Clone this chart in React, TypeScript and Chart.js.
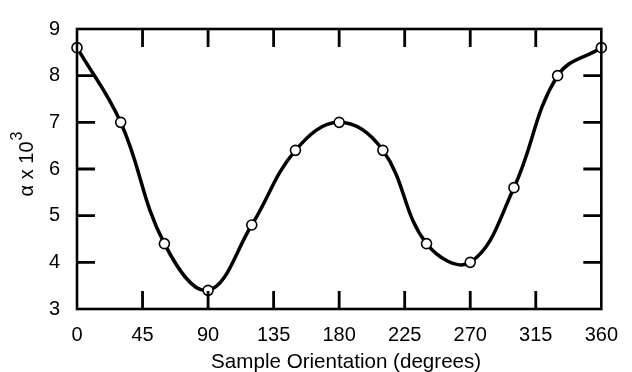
import React, { useEffect, useRef } from "react";
import { Chart, registerables } from "chart.js";

Chart.register(...registerables);

const angles = [0, 30, 60, 90, 120, 150, 180, 210, 240, 270, 300, 330, 360];
const alpha = [8.6, 7.0, 4.4, 3.4, 4.8, 6.4, 7.0, 6.4, 4.4, 4.0, 5.6, 8.0, 8.6];
const xTickValues = [0, 45, 90, 135, 180, 225, 270, 315, 360];
const yTickValues = [3, 4, 5, 6, 7, 8, 9];
const xTitle = "Sample Orientation (degrees)";
const yTitleBase = "\u03b1 x 10";
const yTitleExp = "3";

const FONT = "'Liberation Sans', Arial, Helvetica, sans-serif";

const framePlugin = {
  id: "frameTicks",
  afterDraw(chart: any) {
    const { ctx, chartArea, scales } = chart;
    const { left, right, top, bottom } = chartArea;
    const xs = scales.x;
    const ys = scales.y;
    const len = 18;
    ctx.save();
    ctx.strokeStyle = "#000";
    ctx.lineWidth = 2.8;
    ctx.lineCap = "butt";
    ctx.beginPath();
    xTickValues.forEach((v) => {
      if (v === xs.min || v === xs.max) return;
      const px = xs.getPixelForValue(v);
      ctx.moveTo(px, bottom);
      ctx.lineTo(px, bottom - len);
      ctx.moveTo(px, top);
      ctx.lineTo(px, top + len);
    });
    yTickValues.forEach((v) => {
      if (v === ys.min || v === ys.max) return;
      const py = ys.getPixelForValue(v);
      ctx.moveTo(left, py);
      ctx.lineTo(left + len, py);
      ctx.moveTo(right, py);
      ctx.lineTo(right - len, py);
    });
    ctx.stroke();
    ctx.lineWidth = 2.6;
    ctx.strokeRect(left, top, right - left, bottom - top);

    // x-axis title
    ctx.fillStyle = "#000";
    ctx.font = `20.6px ${FONT}`;
    ctx.textAlign = "center";
    ctx.textBaseline = "alphabetic";
    ctx.fillText(xTitle, (left + right) / 2 + 7, 368);

    // y-axis title with superscript
    const cy = (top + bottom) / 2 - 5;
    ctx.translate(27, cy);
    ctx.rotate(-Math.PI / 2);
    ctx.textBaseline = "middle";
    ctx.textAlign = "left";
    const baseFont = `20px ${FONT}`;
    const expFont = `16px ${FONT}`;
    ctx.font = baseFont;
    const wBase = ctx.measureText(yTitleBase).width;
    ctx.font = expFont;
    const wExp = ctx.measureText(yTitleExp).width;
    const total = wBase + wExp + 1;
    const sx = -total / 2;
    ctx.font = baseFont;
    ctx.fillText(yTitleBase, sx, 0);
    ctx.font = expFont;
    ctx.fillText(yTitleExp, sx + wBase + 1, -9);
    ctx.restore();
  },
};

export default function App() {
  const ref = useRef<HTMLCanvasElement>(null);
  useEffect(() => {
    if (!ref.current) return;
    const pts = angles.map((a, i) => ({ x: a, y: alpha[i] }));
    const chart = new Chart(ref.current, {
      type: "line",
      data: {
        datasets: [
          {
            data: pts,
            borderColor: "#000",
            borderWidth: 3.5,
            tension: 0.4,
            pointRadius: 5,
            pointBackgroundColor: "#fff",
            pointBorderColor: "#000",
            pointBorderWidth: 1.6,
            clip: false,
          } as any,
          {
            data: pts,
            showLine: false,
            pointRadius: 1,
            pointBackgroundColor: "#000",
            pointBorderWidth: 0,
            clip: false,
          } as any,
        ],
      },
      options: {
        animation: false,
        responsive: false,
        events: [],
        layout: { padding: { top: 21, right: 21, left: 0, bottom: 0 } },
        plugins: { legend: { display: false }, tooltip: { enabled: false } },
        scales: {
          x: {
            type: "linear",
            min: 0,
            max: 360,
            afterFit: (s: any) => {
              s.height = 63;
            },
            afterBuildTicks: (s: any) => {
              s.ticks = xTickValues.map((v) => ({ value: v }));
            },
            grid: { display: false, drawTicks: false },
            border: { display: false },
            ticks: {
              color: "#000",
              font: { family: FONT, size: 20 },
              padding: 14,
              maxRotation: 0,
              autoSkip: false,
            },
            title: { display: false },
          },
          y: {
            type: "linear",
            min: 3,
            max: 9,
            afterFit: (s: any) => {
              s.width = 77;
            },
            afterBuildTicks: (s: any) => {
              s.ticks = yTickValues.map((v) => ({ value: v }));
            },
            grid: { display: false, drawTicks: false },
            border: { display: false },
            ticks: {
              color: "#000",
              font: { family: FONT, size: 20 },
              padding: 17,
              autoSkip: false,
            },
            title: { display: false },
          },
        },
      },
      plugins: [framePlugin],
    });
    return () => chart.destroy();
  }, []);
  return (
    <div style={{ position: "fixed", left: 0, top: 0, width: 632, height: 372, background: "#fff" }}>
      <canvas ref={ref} width={632} height={372} style={{ display: "block" }} />
    </div>
  );
}
